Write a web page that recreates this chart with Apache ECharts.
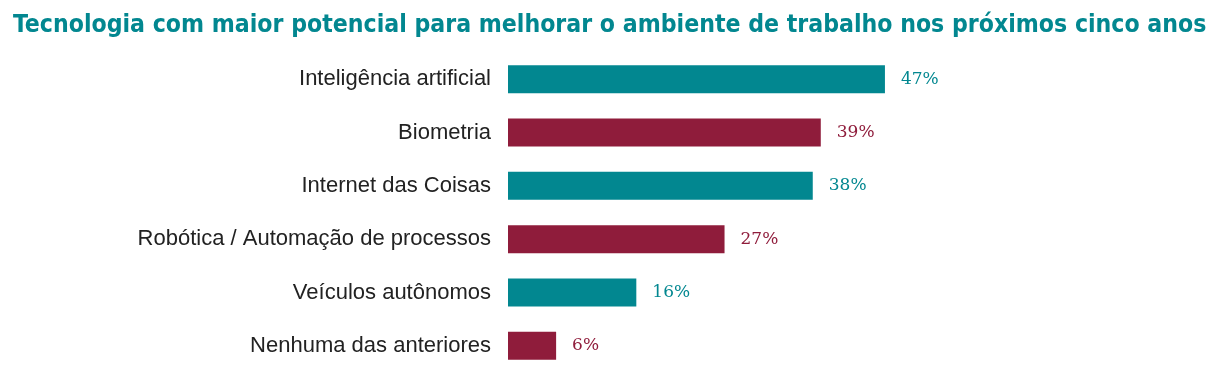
<!DOCTYPE html>
<html><head><meta charset="utf-8">
<script src="https://cdn.jsdelivr.net/npm/echarts@6/dist/echarts.min.js"></script>
<style>html,body{margin:0;padding:0;background:#fff}#c{width:1221px;height:388px}</style>
</head><body><div id="c"></div>
<script>
const titleText = 'Tecnologia com maior potencial para melhorar o ambiente de trabalho nos próximos cinco anos';
const categories = ['Inteligência artificial','Biometria','Internet das Coisas','Robótica / Automação de processos','Veículos autônomos','Nenhuma das anteriores'];
const values = [47,39,38,27,16,6];
const palette = ['#028790','#8F1C3B'];

const chart = echarts.init(document.getElementById('c'));
chart.setOption({
  backgroundColor:'#fff',
  animation:false,
  title:{text:titleText,left:8,top:8,textStyle:{fontFamily:'DejaVu Sans Condensed',fontWeight:'bold',fontSize:24.6,color:'#028790'}},
  grid:{left:508,width:481.2,top:52.5,height:320},
  xAxis:{type:'value',min:0,max:60,show:false},
  yAxis:{type:'category',data:categories,inverse:true,axisLine:{show:false},axisTick:{show:false},
    axisLabel:{margin:17,fontFamily:'Liberation Sans',fontSize:22,color:'#222'}},
  series:[{type:'bar',barWidth:28,
    data:values.map((v,i)=>({value:v,itemStyle:{color:palette[i%2]},label:{color:palette[i%2]}})),
    label:{show:true,position:'right',distance:16,formatter:'{c}%',fontFamily:'DejaVu Serif',fontSize:17}}]
});
</script></body></html>
